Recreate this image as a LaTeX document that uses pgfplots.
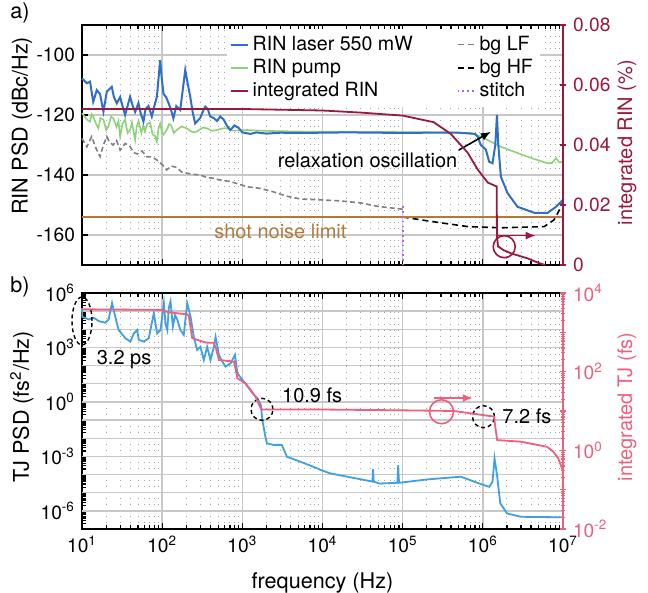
\documentclass[border=0pt]{standalone}
\usepackage{fontspec}
\setmainfont{TeX Gyre Heros}
\usepackage{pgfplots}
\pgfplotsset{compat=1.18}
\usetikzlibrary{arrows.meta}
\definecolor{rinblue}{HTML}{306EC8}
\definecolor{pumpgreen}{HTML}{8CD278}
\definecolor{maroon}{HTML}{9B193C}
\definecolor{bggray}{HTML}{808080}
\definecolor{stitchc}{HTML}{B464DC}
\definecolor{shotc}{HTML}{B07A3E}
\definecolor{tjblue}{HTML}{41A0E1}
\definecolor{pinkc}{HTML}{F05F7D}
\definecolor{gridc}{HTML}{C8C8C8}
\begin{document}
\begin{tikzpicture}
\useasboundingbox (-41pt,-32pt) rectangle (283pt,264.5pt);
%================ TOP LEFT =================
\begin{axis}[scale only axis, width=240.5pt, height=120pt, xmode=log, xmin=10, xmax=1e7,
  at={(0pt,132pt)}, anchor=south west, clip=false,
  tick align=inside, major tick length=3pt, minor tick length=2pt,
  ticklabel style={font=\fontsize{9.6}{11}\selectfont},
  label style={font=\fontsize{10.8}{13}\selectfont},
  xtick={1e1,1e2,1e3,1e4,1e5,1e6,1e7},
  xmajorgrids, xminorgrids, ymajorgrids,
  major grid style={gridc, line width=0.7pt},
  minor grid style={gray!70, line width=0.5pt, dash pattern=on 0.7pt off 2.3pt},
  axis line style={line width=1pt}, tick style={black, line width=0.6pt},
  ymin=-170, ymax=-90, ytick={-160,-140,-120,-100},
  yticklabels={-160,-140,-120,-100}, xticklabels={}, ytick pos=left,
  ylabel={RIN PSD (dBc/Hz)},
  ylabel style={at={(axis description cs:-0.125,0.58)}, anchor=center}]
\addplot[bggray, line width=0.8pt, dash pattern=on 2.5pt off 1.5pt] coordinates {
(10,-127.8)(11.5,-130.6)(13.2,-127.2)(14.9,-131)(16.8,-133.9)(18.5,-130)(20.4,-127.2)(22,-129)(24.4,-130)(27,-128.5)(29.9,-131.7)(34.5,-129.5)(39.8,-130.5)(44,-132.5)(48.7,-133)(56,-132)(64.3,-133.9)(75,-134)(85.9,-135)(100,-136.5)(114,-138.3)(130,-137)(152,-137.5)(175,-139)(203,-139.4)(250,-139.8)(298,-140)(360,-140.8)(434,-141.1)(560,-141.8)(708,-142.2)(900,-143)(1140,-143.9)(1700,-144.5)(2430,-145.6)(3500,-147)(5300,-148)(9500,-148.3)(1.6e4,-148.6)(2.97e4,-149.3)(5e4,-150.5)(1e5,-151.4)};
\addplot[black, line width=0.8pt, dash pattern=on 3pt off 2pt] coordinates {
(1e5,-154)(2.44e5,-155.6)(6.5e5,-157.2)(1.68e6,-157.6)(5.83e6,-157.2)(7.7e6,-155)(9e6,-151.7)(1e7,-149)};
\addplot[shotc, line width=0.9pt] coordinates {(10,-154)(1e7,-154)};
\addplot[stitchc, line width=0.9pt, dash pattern=on 0.8pt off 1.6pt] coordinates {(1e5,-150.5)(1e5,-170)};
\addplot[pumpgreen, line width=0.8pt] coordinates {
(10,-119.4)(11,-120.8)(11.5,-121.5)(12.6,-122.2)(13.2,-119.8)(13.8,-120.5)(15,-123)(16,-124.4)(17,-121)(18.5,-121.5)(20,-125)(21.3,-123.9)(23,-120.5)(24.6,-121.1)(27,-124)(28.5,-122)(29.9,-127.2)(32,-123)(34.5,-121.5)(37,-126)(39.8,-125)(42,-122.5)(46,-128.3)(48,-124)(50.6,-122)(55,-126)(58,-123.5)(61,-125.5)(65,-123)(70.8,-122.5)(76,-126.5)(81.6,-127)(85.9,-128.9)(90,-124.5)(94.4,-122.8)(99,-125.5)(104,-126.5)(114,-125)(122,-123)(130,-123.5)(140,-126)(152,-125)(175,-123.8)(203,-124.5)(240,-125.8)(272,-125.5)(320,-124.2)(359,-124.4)(420,-125.3)(483,-125)(560,-124.5)(644,-124.4)(750,-125.2)(861,-125.2)(1140,-125)(2e3,-125.3)(5e3,-125.5)(1e4,-125.6)(3e4,-125.6)(1e5,-125.7)(3e5,-125.8)(7e5,-126)(9.44e5,-127.2)(1.68e6,-130.6)(3.6e6,-133.9)(6.4e6,-136.1)(7.3e6,-136)(8.18e6,-134.4)(9e6,-135.8)(1e7,-135.6)};
\addplot[rinblue, line width=1pt] coordinates {
(10,-107.8)(11.5,-109.4)(12.6,-108.9)(13.8,-115.6)(15.3,-111.7)(16.8,-113)(18.5,-118.9)(20.4,-112.2)(23.5,-110.6)(25,-114)(27.2,-116.1)(29.9,-114)(32,-117)(34.5,-120)(39.8,-113.9)(43,-117)(46,-119)(50.6,-116)(54,-119.5)(58.4,-122.2)(62,-118)(67.4,-117)(74.3,-120.5)(80,-117)(85.9,-113.9)(90,-108)(94.4,-101.7)(99,-108)(104,-113)(112,-114)(120,-116)(128,-118)(138,-121.1)(150,-117)(168,-118.3)(180,-112)(194,-105)(210,-110)(224,-113.9)(240,-119)(258,-122.8)(298,-121)(320,-119)(345,-117.2)(370,-118)(398,-120.5)(440,-121)(483,-122)(530,-120.5)(584,-121.5)(640,-123.5)(708,-125)(800,-123.5)(899,-124.3)(1000,-125.8)(1259,-126.3)(1500,-125.8)(2000,-126.2)(3000,-125.9)(5000,-126)(1e4,-125.9)(2e4,-125.8)(5e4,-125.9)(1e5,-126)(2e5,-125.9)(5e5,-125.9)(8e5,-126.3)(8.6e5,-127.2)(9.44e5,-130)(1.09e6,-131.5)(1.2e6,-135.6)(1.32e6,-136.1)(1.43e6,-130)(1.5e6,-120)(1.56e6,-130)(1.68e6,-140.6)(2.04e6,-146.1)(2.71e6,-150.6)(4.38e6,-152.6)(6.44e6,-152.6)(8.18e6,-150.6)(1e7,-148.3)};
\node[font=\fontsize{10}{12}\selectfont] at (axis cs:3.65e4,-135) {relaxation oscillation};
\draw[black, line width=0.8pt, -{Latex[length=5pt,width=4pt]}] (axis cs:5e5,-131.7) -- (axis cs:1.26e6,-125.6);
\node[shotc, font=\fontsize{10}{12}\selectfont] at (axis cs:2985,-158.7) {shot noise limit};
\draw[maroon, line width=0.8pt] (axis cs:1.85e6,-163.9) circle [radius=5.5pt];
\draw[maroon, line width=0.8pt, -{Latex[length=5pt,width=4pt]}] (axis cs:1.52e6,-160.2) -- (axis cs:4.57e6,-160.2);
\end{axis}
%================ TOP RIGHT =================
\begin{axis}[scale only axis, width=240.5pt, height=120pt, xmode=log, xmin=10, xmax=1e7,
  at={(0pt,132pt)}, anchor=south west, clip=false,
  tick align=inside, major tick length=3pt, minor tick length=2pt,
  ticklabel style={font=\fontsize{9.6}{11}\selectfont},
  label style={font=\fontsize{10.8}{13}\selectfont},
  ymin=0, ymax=0.08, axis x line=none, axis y line=right, scaled y ticks=false,
  ytick={0,0.02,0.04,0.06,0.08}, yticklabels={0,0.02,0.04,0.06,0.08},
  y axis line style={-, draw=maroon, line width=1pt},
  tick style={maroon, line width=0.6pt},
  yticklabel style={text=maroon},
  ylabel={integrated RIN (\%)},
  ylabel style={text=maroon, at={(axis description cs:1.133,0.51)}, anchor=center},
  legend columns=2, legend cell align=left,
  legend style={at={(0.30,0.985)}, anchor=north west, draw=none, fill=white,
    font=\fontsize{9.8}{11}\selectfont, inner sep=1.5pt, row sep=-1pt,
    /tikz/every even column/.append style={column sep=20pt}},
  legend image code/.code={\draw[#1] (0pt,0pt) -- (8.5pt,0pt);}]
\addlegendimage{rinblue, line width=1pt}\addlegendentry{RIN laser 550 mW}
\addlegendimage{bggray, line width=0.8pt, dash pattern=on 3pt off 2pt}\addlegendentry{bg LF}
\addlegendimage{pumpgreen, line width=1pt}\addlegendentry{RIN pump}
\addlegendimage{black, line width=0.8pt, dash pattern=on 3pt off 2pt}\addlegendentry{bg HF}
\addlegendimage{maroon, line width=1pt}\addlegendentry{integrated RIN}
\addlegendimage{stitchc, line width=0.9pt, dash pattern=on 0.8pt off 1.6pt}\addlegendentry{stitch}
\addplot[maroon, line width=0.9pt, forget plot] coordinates {
(10,0.052)(1e3,0.052)(1e4,0.0515)(3e4,0.0508)(1e5,0.0498)(2.44e5,0.0476)(3.98e5,0.0437)(6.44e5,0.0375)(8.59e5,0.0319)(1.15e6,0.0275)(1.45e6,0.0263)(1.49e6,0.0262)(1.5e6,0.0095)(1.55e6,0.0062)(1.8e6,0.005)(2.24e6,0.0039)(3.62e6,0.0022)(5.06e6,0.0006)(6e6,0)};
\end{axis}
%================ BOTTOM LEFT =================
\begin{axis}[scale only axis, width=240.5pt, height=118pt, xmode=log, xmin=10, xmax=1e7,
  at={(0pt,0pt)}, anchor=south west, clip=false,
  tick align=inside, major tick length=3pt, minor tick length=2pt,
  ticklabel style={font=\fontsize{9.6}{11}\selectfont},
  label style={font=\fontsize{10.8}{13}\selectfont},
  xtick={1e1,1e2,1e3,1e4,1e5,1e6,1e7},
  xmajorgrids=true, xminorgrids=true, ymajorgrids=true,
  major grid style={gridc, line width=0.7pt},
  minor grid style={gray!70, line width=0.5pt, dash pattern=on 0.7pt off 2.3pt},
  axis line style={line width=1pt}, tick style={black, line width=0.6pt},
  ymode=log, ymin=1e-7, ymax=1e6,
  ytick={1e-7,1e-6,1e-5,1e-4,1e-3,1e-2,1e-1,1,1e1,1e2,1e3,1e4,1e5,1e6},
  yticklabels={,10\textsuperscript{-6},,,10\textsuperscript{-3},,,10\textsuperscript{0},,,10\textsuperscript{3},,,10\textsuperscript{6}},
  xticklabels={10\textsuperscript{1},10\textsuperscript{2},10\textsuperscript{3},10\textsuperscript{4},10\textsuperscript{5},10\textsuperscript{6},10\textsuperscript{7}},
  ytick pos=left,
  xlabel={frequency (Hz)},
  xlabel style={at={(axis description cs:0.5,-0.229)}, anchor=center},
  ylabel={TJ PSD (fs\textsuperscript{2}/Hz)},
  ylabel style={at={(axis description cs:-0.125,0.517)}, anchor=center}]
\pgfplotsinvokeforeach{-6,-5,-4,-3,-2,-1,0,1,2,3,4,5}{
  \draw[gridc, line width=0.7pt] (axis cs:10,1e#1) -- (axis cs:1e7,1e#1);}
\addplot[tjblue, line width=0.9pt] coordinates {
(10,1.45e5)(10.1,4.9e4)(12.1,3.5e4)(14,4.3e4)(16.2,2.8e4)(19.5,2.3e4)(21.5,3.5e4)(23.7,2.8e5)(26,4.9e4)(28.7,9.1e3)(34.8,3.2e3)(40.2,2.1e3)(44.3,5.9e3)(48.8,9.1e3)(51.1,2.6e3)(59,2.1e3)(68,3.2e3)(78.6,7.6e4)(86.6,5.9e3)(95.3,9.1e3)(105,2.8e5)(110,2.0e4)(115.8,9.1e3)(121,1.5e5)(127,3.5e5)(136,1.4e4)(145,6.0e4)(154,3.5e4)(169,9.1e3)(186,4.9e3)(205,2.8e5)(226,4.9e4)(248,3.9e3)(273,720)(300,1.1e3)(331,200)(364,1.1e3)(401,200)(442,1.1e3)(464,3.9e3)(511,390)(562,165)(619,89)(715,135)(810,390)(867,38)(1000,16.6)(1160,7.1)(1335,3.1)(1540,1.6)(1700,0.69)(1780,0.1)(1940,0.012)(2030,5.2e-3)(2440,4.3e-3)(3100,4.3e-3)(3250,2.75e-3)(3600,9.5e-4)(5300,5.1e-4)(8600,2.2e-4)(9400,1.8e-4)(1.26e4,1.15e-4)(2.04e4,7.6e-5)(4.2e4,4.1e-5)(4.27e4,1.95e-4)(4.35e4,4.1e-5)(5.1e4,3.2e-5)(8.6e4,3.5e-5)(8.8e4,3.3e-4)(9.0e4,3.5e-5)(2.05e5,5.4e-5)(5.3e5,7.6e-5)(1.03e6,2.6e-5)(1.2e6,2.1e-5)(1.32e6,4e-5)(1.4e6,7.8e-4)(1.5e6,1e-4)(1.65e6,2.6e-6)(2.0e6,7.2e-7)(2.97e6,4.7e-7)(1e7,4.4e-7)};
\draw[black, line width=0.7pt, dash pattern=on 2pt off 1.5pt] (axis cs:10,2.87e4) ellipse [x radius=5pt, y radius=12pt];
\node[font=\fontsize{10}{12}\selectfont] at (axis cs:33.5,204) {3.2 ps};
\draw[black, line width=0.7pt, dash pattern=on 2pt off 1.5pt] (axis cs:1760,0.391) circle [radius=5.5pt];
\node[font=\fontsize{10}{12}\selectfont] at (axis cs:7430,2.4) {10.9 fs};
\draw[black, line width=0.7pt, dash pattern=on 2pt off 1.5pt] (axis cs:1.02e6,0.153) circle [radius=5.5pt];
\node[font=\fontsize{10}{12}\selectfont] at (axis cs:3.55e6,0.153) {7.2 fs};
\draw[pinkc, line width=0.8pt] (axis cs:3.05e5,0.288) circle [radius=6pt];
\draw[pinkc, line width=0.8pt, -{Latex[length=5pt,width=4pt]}] (axis cs:2.44e5,1.64) -- (axis cs:7.5e5,1.64);
\end{axis}
%================ BOTTOM RIGHT =================
\begin{axis}[scale only axis, width=240.5pt, height=118pt, xmode=log, xmin=10, xmax=1e7,
  at={(0pt,0pt)}, anchor=south west, clip=false,
  tick align=inside, major tick length=3pt, minor tick length=2pt,
  ticklabel style={font=\fontsize{9.6}{11}\selectfont},
  label style={font=\fontsize{10.8}{13}\selectfont},
  ymode=log, ymin=1e-2, ymax=1e4, axis x line=none, axis y line=right,
  ytick={1e-2,1e-1,1,1e1,1e2,1e3,1e4},
  yticklabels={10\textsuperscript{-2},,10\textsuperscript{0},,10\textsuperscript{2},,10\textsuperscript{4}},
  y axis line style={-, draw=pinkc, line width=1pt},
  tick style={pinkc, line width=0.6pt},
  yticklabel style={text=pinkc},
  ylabel={integrated TJ (fs)},
  ylabel style={text=pinkc, at={(axis description cs:1.133,0.517)}, anchor=center}]
\addplot[pinkc, line width=0.9pt] coordinates {
(10,3850)(100,3720)(118,3240)(205,2870)(215,2600)(237,710)(348,550)(442,540)(470,380)(511,200)(787,178)(830,110)(867,68)(1100,50)(1270,34)(1460,23)(1700,11.5)(1780,10.9)(1e4,10.9)(1e5,10.4)(4.36e5,10)(1.38e6,7.2)(1.43e6,4)(1.51e6,1.82)(2.98e6,1.66)(6.3e6,1.23)(7.6e6,0.92)(8.7e6,0.63)(9.9e6,0.316)(1e7,0.05)};
\end{axis}
\node[font=\fontsize{10.8}{13}\selectfont] at (-31pt,258pt) {a)};
\node[font=\fontsize{10.8}{13}\selectfont] at (-31pt,121pt) {b)};
\end{tikzpicture}
\end{document}
